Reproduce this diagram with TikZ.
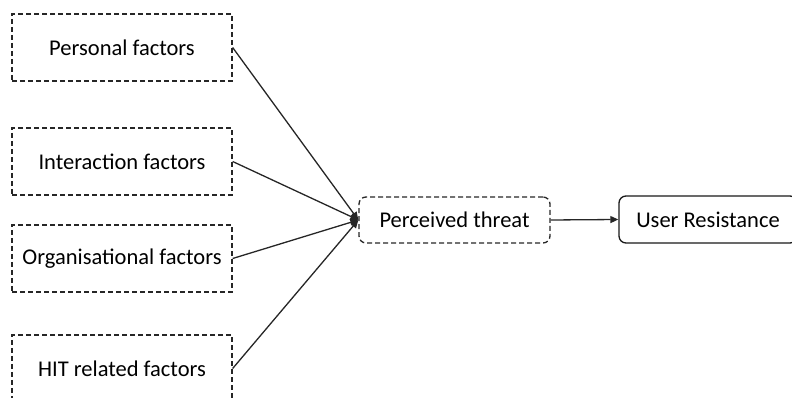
\documentclass[tikz,border=0pt]{standalone}
\usepackage{fontspec}
\setmainfont{Carlito}
\usetikzlibrary{arrows.meta}
\begin{document}
\begin{tikzpicture}[x=1pt,y=1pt,
  factor/.style={draw=black!85,dash pattern=on 5pt off 3pt,line width=1.3pt,minimum width=220pt,minimum height=67pt,inner sep=0pt,font=\fontsize{22.5}{26}\selectfont},
  threatbox/.style={factor,rounded corners=7pt,minimum width=191pt,minimum height=46pt},
  resistbox/.style={draw=black!90,line width=1.3pt,rounded corners=7pt,minimum width=178pt,minimum height=47pt,inner sep=0pt,font=\fontsize{22.5}{26}\selectfont},
  link/.style={draw=black!85,line width=1.3pt,-{Triangle[length=8pt,width=7pt]}}]
  \useasboundingbox (0,0) rectangle (792,398);
  \clip (0,0) rectangle (792,398);
  % factors on the left
  \node[factor] (pers) at (122,350.5) {Personal factors};
  \node[factor] (inter) at (122,236.5) {Interaction factors};
  \node[factor] (org) at (122,139.5) {Organisational factors};
  \node[factor] (hit) at (122,29.5) {HIT related factors};
  % middle and right
  \node[threatbox] (threat) at (454.5,178) {Perceived threat};
  \node[resistbox] (resist) at (708,178.5) {User Resistance};
  \foreach \f in {pers,inter,org,hit}
    \draw[link] (\f.east) -- (threat.west);
  \draw[link] (threat.east) -- (resist.west);
\end{tikzpicture}
\end{document}
